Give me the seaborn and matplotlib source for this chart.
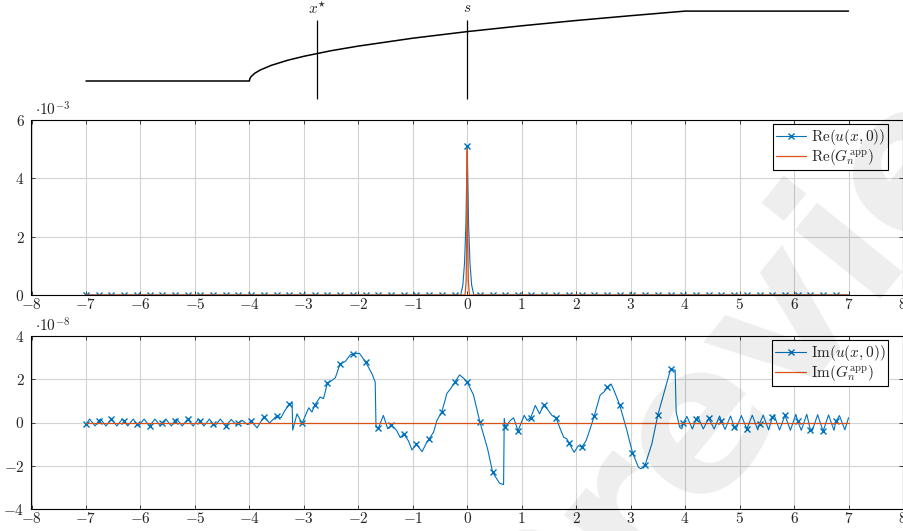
import numpy as np
import pandas as pd
import matplotlib
matplotlib.use("Agg")
import matplotlib.pyplot as plt
from matplotlib.ticker import FuncFormatter
import seaborn as sns

# ---------------------------------------------------------------- data
# sketch of the medium profile (height in arbitrary units)
profile_x = [-7, -4, -3.99, -3.97, -3.9, -3.8, -3.6, -3.3, -3.0, -2.5, -2.0,
             -1.0, 0.0, 1.0, 2.0, 3.0, 4.0, 7.0]
profile_h = [24.0, 24.0, 26.5, 28.3, 31.8, 35.0, 39.6, 44.7, 48.7, 54.3, 58.9,
             66.8, 73.4, 79.2, 84.5, 89.3, 93.9, 93.9]
x_star = -2.75
s_pos = 0.0

# sample points carrying a marker
mark_x = np.linspace(-7, 7, 61)[:60]

# Re(u(x,0)) in units of 1e-3
mark_re = [0.0] * 30 + [5.1] + [0.0] * 29
re_x = [-0.12, -0.08, -0.05, -0.025, 0.025, 0.05, 0.08, 0.12, 7.0]
re_y = [0.0, 0.35, 1.1, 2.4, 2.4, 1.1, 0.35, 0.0, 0.0]

# Re(G_n^app) in units of 1e-3
g_re_x = [-7.0, -0.04, -0.02, -0.01, 0.0, 0.01, 0.02, 0.04, 7.0]
g_re_y = [0.0, 0.0, 0.5, 1.9, 5.0, 1.9, 0.5, 0.0, 0.0]

# Im(u(x,0)) in units of 1e-8
mark_im = [-0.08, 0.08, 0.16, 0.08, -0.08, -0.16, 0.0, 0.09, 0.16, 0.05,
           -0.08, -0.16, 0.0, 0.09, 0.27, 0.30, 0.84, -0.04, 0.80, 1.82,
           2.72, 3.17, 2.80, -0.27, -0.13, -0.52, -1.00, -0.76, 0.49, 1.85,
           1.87, 0.01, -2.31, -0.20, -0.38, 0.23, 0.79, 0.20, -0.95, -1.14,
           0.32, 1.63, 0.80, -1.39, -1.95, 0.36, 2.46, -0.02, 0.15, 0.20,
           0.05, -0.19, -0.30, -0.06, 0.24, 0.33, 0.06, -0.34, -0.40, 0.05]
im_x = [-6.933, -6.833, -6.733, -6.633, -6.433, -6.333, -6.233, -6.133,
        -6.033, -5.933, -5.733, -5.633, -5.533, -5.433, -5.333, -5.233,
        -5.033, -4.933, -4.833, -4.733, -4.633, -4.533, -4.333, -4.233,
        -4.133, -4.033,
        -3.86, -3.63, -3.42, -3.35, -3.215, -3.205, -3.125, -2.91, -2.85,
        -2.70, -2.64, -2.48, -2.42, -2.24, -2.15, -1.98, -1.75, -1.69,
        -1.675, -1.54, -1.46, -1.30, -1.23, -1.08, -1.015, -0.83, -0.74,
        -0.618, -0.556, -0.372, -0.30, -0.141, -0.068, 0.115, 0.373, 0.594,
        0.667, 0.679, 0.79, 0.85, 1.046, 1.10, 1.25, 1.327, 1.47, 1.554,
        1.706, 1.77, 1.83, 1.963, 2.04, 2.18, 2.257, 2.44, 2.513, 2.642,
        2.70, 2.93, 3.143, 3.187, 3.39, 3.66, 3.817, 3.835, 3.90, 3.94,
        4.033, 4.133, 4.233, 4.333, 4.533, 4.633, 4.733, 4.833, 4.933,
        5.033, 5.233, 5.333, 5.433, 5.533, 5.633, 5.733, 5.933, 6.033,
        6.133, 6.233, 6.333, 6.433, 6.633, 6.733, 6.833, 6.933, 7.0]
im_y = [0.16, -0.16, 0.16, -0.16, -0.16, 0.16, -0.16, 0.16,
        -0.16, 0.16, 0.16, -0.16, 0.16, -0.16, 0.16, -0.16,
        -0.16, 0.16, -0.16, 0.16, -0.16, 0.16, 0.14, -0.12,
        0.10, -0.10,
        -0.25, -0.02, 0.22, 0.55, 0.92, -0.35, 0.40, 0.68, 0.48,
        1.18, 1.10, 1.95, 2.08, 2.82, 3.12, 3.20, 2.26, 1.87,
        -0.22, 0.33, -0.29, -0.35, -0.70, -0.85, -1.27, -1.35, -0.90,
        -0.44, 0.10, 1.35, 1.58, 2.20, 2.05, 1.27, -1.21, -2.81,
        -2.87, 0.19, 0.09, 0.22, 0.33, 0.10, 0.79, 0.40, 0.62, 0.33,
        -0.29, -0.68, -0.76, -1.38, -1.07, -0.85, -0.29, 1.27, 1.42, 1.78,
        1.45, -0.36, -2.07, -2.14, -0.98, 1.80, 2.42, 0.49, -0.22, -0.29,
        0.28, -0.30, 0.28, -0.30, -0.30, 0.30, -0.32, 0.30, -0.32,
        0.32, 0.34, -0.34, 0.34, -0.34, 0.35, -0.35, -0.36, 0.38,
        -0.36, 0.38, -0.38, 0.36, 0.35, -0.36, 0.32, -0.34, 0.22]

# Im(G_n^app) in units of 1e-8
g_im_x = [-7.0, 7.0]
g_im_y = [0.0, 0.0]

x_ticks = list(range(-8, 9))
re_ticks = [0, 2, 4, 6]
im_ticks = [-4, -2, 0, 2, 4]

BLUE = "#0072BD"
ORANGE = "#D95319"


def merge(mx, my, ex, ey):
    """Join marked samples and intermediate samples, sorted along x."""
    x = np.concatenate([np.asarray(mx, float), np.asarray(ex, float)])
    y = np.concatenate([np.asarray(my, float), np.asarray(ey, float)])
    flag = np.r_[np.ones(len(mx), bool), np.zeros(len(ex), bool)]
    order = np.argsort(x, kind="stable")
    return x[order], y[order], np.flatnonzero(flag[order]).tolist()


# ---------------------------------------------------------------- style
sns.set_style("whitegrid")
plt.rcParams.update({
    "font.family": "serif",
    "font.serif": ["cmr10", "DejaVu Serif"],
    "mathtext.fontset": "cm",
    "axes.unicode_minus": False,
    "axes.edgecolor": "black",
    "axes.linewidth": 0.8,
    "grid.color": "#d3d3d3",
    "grid.linewidth": 0.8,
})

W_PX, H_PX = 904, 531
fig = plt.figure(figsize=(W_PX / 100, H_PX / 100), dpi=100)
left = 31.5 / W_PX
width = (903 - 31.5) / W_PX


def px_axes(top, bottom):
    return fig.add_axes([left, 1 - bottom / H_PX, width, (bottom - top) / H_PX])


ax_top = px_axes(0, 105)
ax_re = px_axes(120, 295)
ax_im = px_axes(336, 509)

# ---------------------------------------------------------------- sketch
sns.lineplot(x=profile_x, y=profile_h, ax=ax_top, color="black", lw=1.1,
             estimator=None, sort=False)
ax_top.vlines([x_star, s_pos], 6, 85, color="black", lw=0.9)
ax_top.text(x_star, 97, r"$x^{\star}$", ha="center", va="center", fontsize=11)
ax_top.text(s_pos, 97, r"$s$", ha="center", va="center", fontsize=11)
ax_top.set_xlim(-8, 8)
ax_top.set_ylim(0, 105)
ax_top.axis("off")

marker_kw = dict(marker="x", ms=3.8, mew=1.0, markeredgecolor=BLUE,
                 markerfacecolor=BLUE)

# ---------------------------------------------------------------- real part
rx, ry, ridx = merge(mark_x, mark_re, re_x, re_y)
sns.lineplot(x=rx, y=ry * 1e-3, ax=ax_re, color=BLUE, lw=0.8,
             markevery=ridx, estimator=None, sort=False,
             label=r"$\mathrm{Re}(u(x,0))$", **marker_kw)
sns.lineplot(x=g_re_x, y=np.asarray(g_re_y) * 1e-3, ax=ax_re, color=ORANGE,
             lw=0.9, estimator=None, sort=False,
             label=r"$\mathrm{Re}(G_n^{\mathrm{app}})$")
ax_re.set_ylim(0, 6e-3)
ax_re.set_yticks([v * 1e-3 for v in re_ticks])
ax_re.yaxis.set_major_formatter(FuncFormatter(lambda v, p: f"${v / 1e-3:g}$"))
ax_re.text(0.004, 1.01, r"$\cdot 10^{-3}$", transform=ax_re.transAxes,
           ha="left", va="bottom", fontsize=11)

# ---------------------------------------------------------------- imaginary part
ix, iy, iidx = merge(mark_x, mark_im, im_x, im_y)
sns.lineplot(x=ix, y=iy * 1e-8, ax=ax_im, color=BLUE, lw=0.8,
             markevery=iidx, estimator=None, sort=False,
             label=r"$\mathrm{Im}(u(x,0))$", **marker_kw)
sns.lineplot(x=g_im_x, y=np.asarray(g_im_y) * 1e-8, ax=ax_im, color=ORANGE,
             lw=0.9, estimator=None, sort=False,
             label=r"$\mathrm{Im}(G_n^{\mathrm{app}})$")
ax_im.set_ylim(-4e-8, 4e-8)
ax_im.set_yticks([v * 1e-8 for v in im_ticks])
ax_im.yaxis.set_major_formatter(FuncFormatter(lambda v, p: f"${v / 1e-8:g}$"))
ax_im.text(0.004, 1.01, r"$\cdot 10^{-8}$", transform=ax_im.transAxes,
           ha="left", va="bottom", fontsize=11)

for ax in (ax_re, ax_im):
    ax.set_xlim(-8, 8)
    ax.set_xticks(x_ticks)
    ax.xaxis.set_major_formatter(FuncFormatter(lambda v, p: f"${v:g}$"))
    ax.tick_params(labelsize=11, direction="in", length=3, width=0.6,
                   top=True, right=True, bottom=True, left=True)
    ax.tick_params(axis="x", pad=1.5)
    ax.tick_params(axis="y", pad=5)
    ax.set_xlabel("")
    ax.set_ylabel("")
    ax.grid(True)
    for sp in ax.spines.values():
        sp.set_visible(True)
        sp.set_color("black")
        sp.set_linewidth(0.8)
    leg = ax.legend(loc="upper right", bbox_to_anchor=(0.983, 0.975),
                    frameon=True, fancybox=False, framealpha=1,
                    edgecolor="black", fontsize=11, handlelength=2.0,
                    borderpad=0.2, labelspacing=0.0, handletextpad=0.3,
                    borderaxespad=0)
    leg.get_frame().set_linewidth(0.8)

# faint diagonal watermark
fig.text(0.865, 0.416, "Preview", fontsize=145, rotation=51, color="black",
         alpha=0.07, ha="center", va="center", family="DejaVu Sans",
         weight="bold", zorder=10)

fig.savefig("out.png", dpi=100)
